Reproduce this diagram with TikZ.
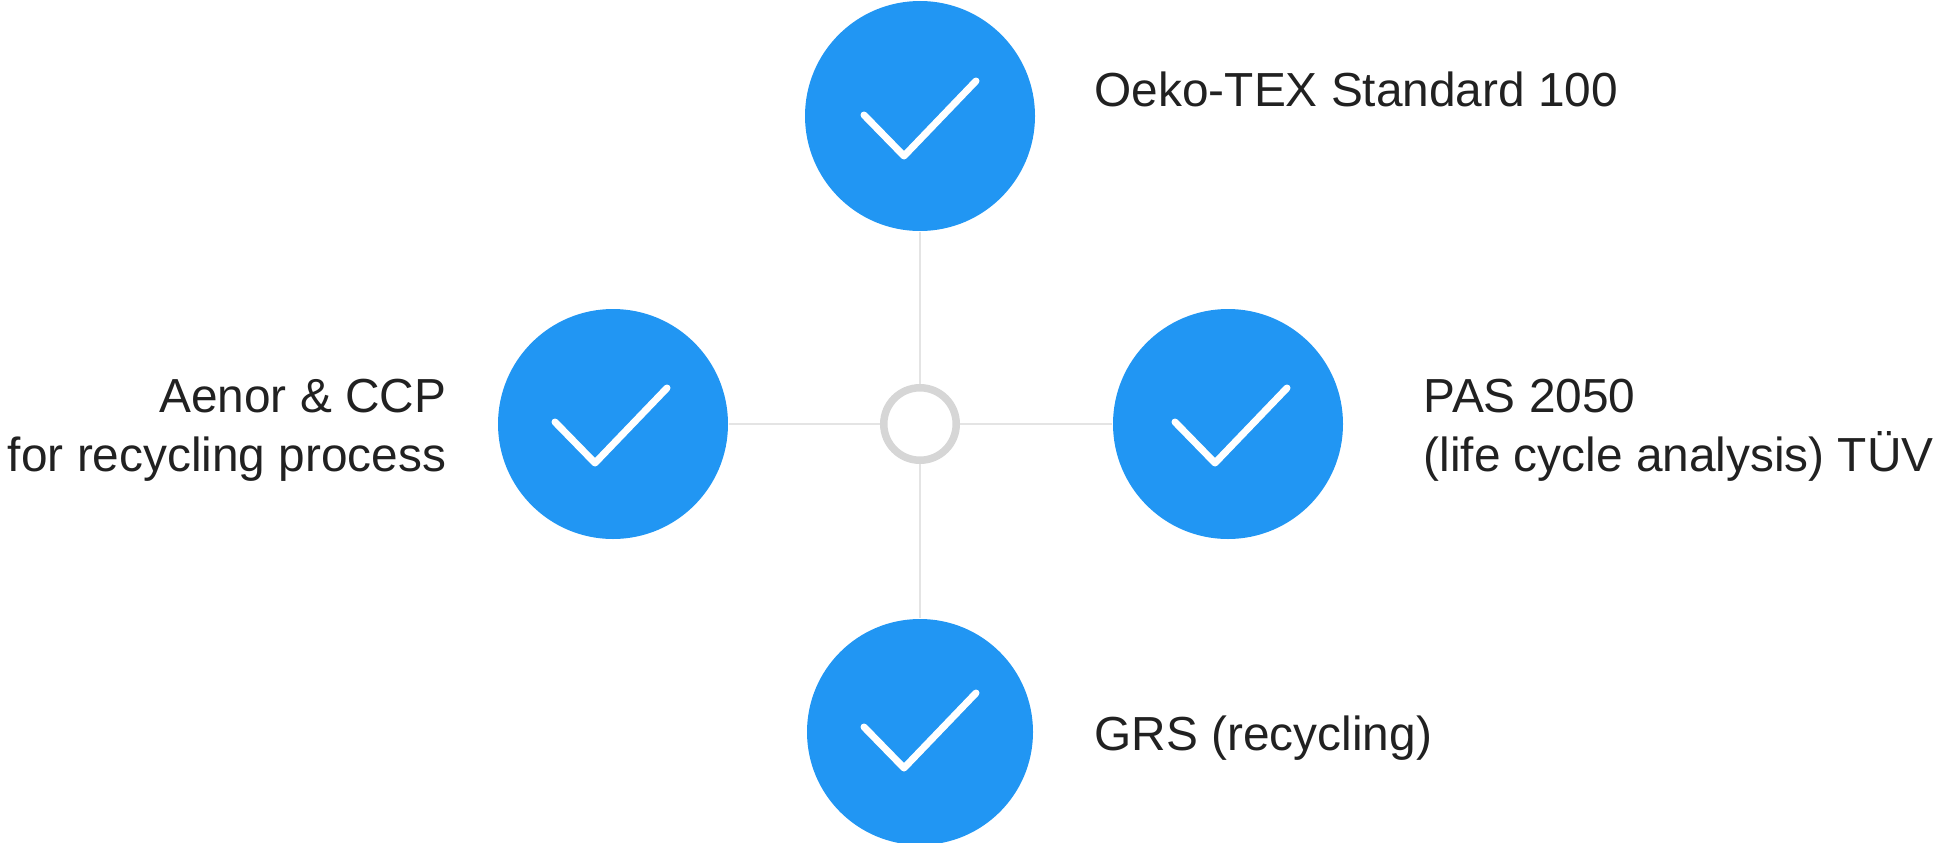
\documentclass[tikz,border=0pt]{standalone}
\usepackage{fontspec}
\setmainfont{Liberation Sans}
\usetikzlibrary{positioning}
\definecolor{checkblue}{HTML}{2196F3}
\definecolor{linegray}{HTML}{E4E4E4}
\definecolor{ringgray}{HTML}{D6D6D6}
\definecolor{labelgray}{HTML}{212121}
\tikzstyle{badge} = [circle, minimum size=2.3cm, inner sep=0pt, fill=checkblue]
\tikzstyle{ring} = [circle, minimum size=0.725cm, inner sep=0pt, line width=0.075cm, draw=ringgray, fill=white]
\tikzstyle{spoke} = [line width=0.015cm, draw=linegray]
\tikzstyle{tick} = [line width=0.07cm, draw=white, line cap=round, line join=round]
\tikzstyle{caption} = [font=\fontsize{13.6pt}{16.7pt}\selectfont, text=labelgray, inner sep=0pt]

\begin{document}
\begin{tikzpicture}
	\useasboundingbox (0,0) rectangle (19.34,8.42);
	\node [ring] at (9.20,4.18) (hub) {};
	\node [badge] at (9.20,7.26) (oeko) {};
	\node [badge] at (6.13,4.18) (aenor) {};
	\node [badge] at (12.28,4.18) (pas) {};
	\node [badge, minimum size=2.26cm] at (9.20,1.10) (grs) {};

	\draw [spoke] (hub) -- (oeko);
	\draw [spoke] (hub) -- (aenor);
	\draw [spoke] (hub) -- (pas);
	\draw [spoke] (hub) -- (grs);

	\coordinate (tickoeko) at (8.64,7.27);
	\coordinate (tickaenor) at (5.55,4.20);
	\coordinate (tickpas) at (11.75,4.20);
	\coordinate (tickgrs) at (8.64,1.15);
	\draw [tick] (tickoeko) -- ++(0.40,-0.41) -- ++(0.72,0.75);
	\draw [tick] (tickaenor) -- ++(0.40,-0.41) -- ++(0.72,0.75);
	\draw [tick] (tickpas) -- ++(0.40,-0.41) -- ++(0.72,0.75);
	\draw [tick] (tickgrs) -- ++(0.40,-0.41) -- ++(0.72,0.75);

	\node [caption, anchor=west] at (10.94,7.53) (oekotext) {Oeko-TEX Standard 100};
	\node [caption, anchor=east, align=right] at (4.47,4.12) (aenortext) {Aenor \& CCP\\for recycling process};
	\node [caption, anchor=west, align=left] at (14.23,4.12) (pastext) {PAS 2050\\(life cycle analysis) TÜV};
	\node [caption, anchor=west] at (10.94,1.04) (grstext) {GRS (recycling)};
\end{tikzpicture}
\end{document}
